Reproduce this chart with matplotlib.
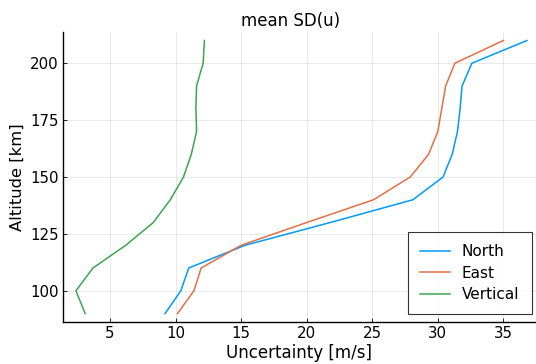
import matplotlib
matplotlib.use("Agg")
import matplotlib.pyplot as plt

# Altitude levels in km
altitude = [90, 100, 110, 120, 130, 140, 150, 160, 170, 180, 190, 200, 210]

# mean SD of wind components, m/s
north = [9.2, 10.4, 11.0, 15.3, 21.8, 28.1, 30.4, 31.1, 31.5, 31.7, 31.85, 32.6, 36.8]
east = [10.15, 11.4, 11.95, 15.0, 20.0, 25.1, 27.9, 29.3, 30.0, 30.3, 30.6, 31.3, 35.0]
vertical = [3.1, 2.4, 3.7, 6.2, 8.3, 9.6, 10.6, 11.2, 11.6, 11.55, 11.6, 12.1, 12.2]

SERIES = [("North", north, "#009AFA"),
          ("East", east, "#E36F47"),
          ("Vertical", vertical, "#3EA44E")]

plt.rcParams["font.family"] = "DejaVu Sans"

W, H = 536, 364
fig = plt.figure(figsize=(W / 100, H / 100), dpi=100)
ax = fig.add_axes([62.7 / W, 1 - 321.7 / H, (536 - 62.7) / W, (321.7 - 32.3) / H])

for name, vals, color in SERIES:
    ax.plot(vals, altitude, color=color, linewidth=1.1, label=name)

ax.set_xlim(1.39, 37.49)
ax.set_ylim(86.4, 213.6)
ax.set_xticks([5, 10, 15, 20, 25, 30, 35])
ax.set_yticks([100, 125, 150, 175, 200])

ax.grid(True, color="black", alpha=0.1, linewidth=0.6)
for side in ("top", "right"):
    ax.spines[side].set_visible(False)
for side in ("left", "bottom"):
    ax.spines[side].set_linewidth(1.0)
    ax.spines[side].set_color("black")
ax.tick_params(axis="both", direction="in", length=3, width=0.6,
               labelsize=10.8, pad=3)

ax.set_xlabel("Uncertainty [m/s]", fontsize=12, labelpad=2)
ax.set_ylabel("Altitude [km]", fontsize=11.8, labelpad=4)
fig.text(291 / W, 1 - 26 / H, "mean SD(u)", fontsize=12,
         ha="center", va="baseline")

leg = ax.legend(loc="lower right", fontsize=11, frameon=True, fancybox=False,
                borderpad=0.8, handlelength=1.95, handletextpad=0.8,
                labelspacing=0.43, borderaxespad=0,
                bbox_to_anchor=(531.7 / W, 1 - 314.3 / H),
                bbox_transform=fig.transFigure)
leg.get_frame().set_edgecolor("black")
leg.get_frame().set_linewidth(0.8)

fig.savefig("out.png", dpi=100)
